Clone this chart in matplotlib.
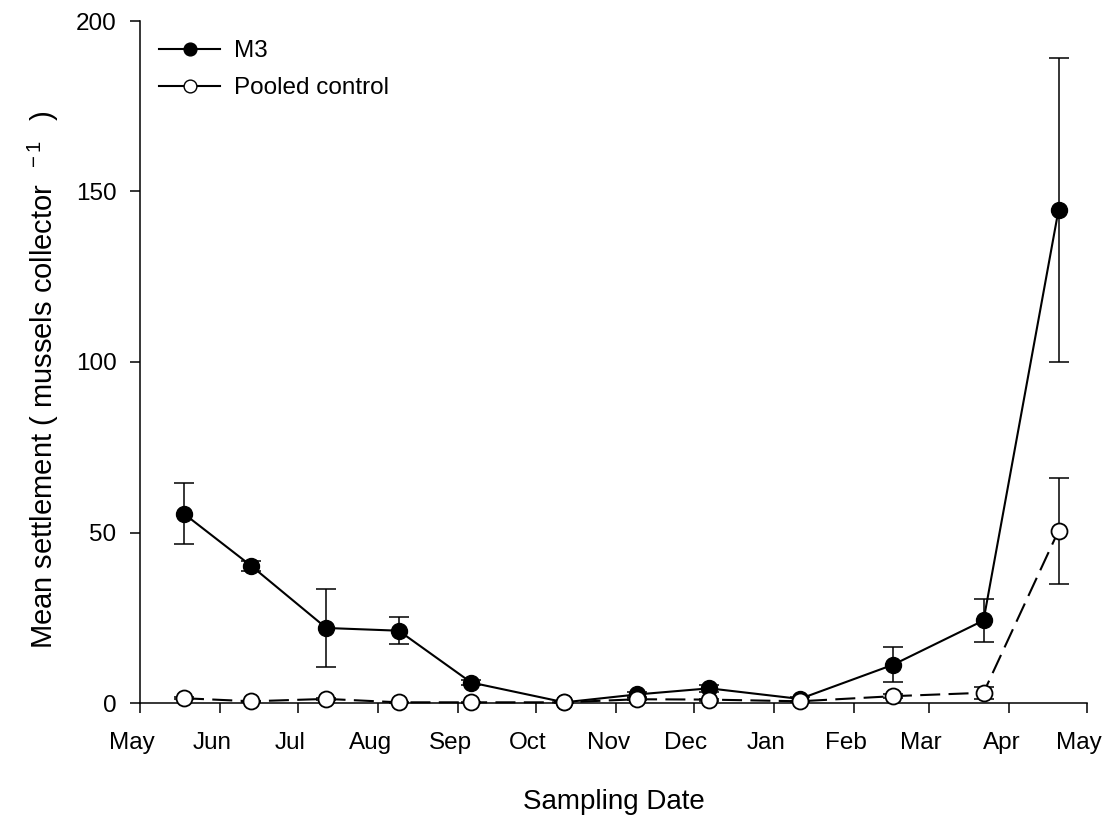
import matplotlib
matplotlib.use("Agg")
import matplotlib.pyplot as plt
import matplotlib.transforms as mtransforms
from datetime import datetime

plt.rcParams['font.family'] = ['Liberation Sans', 'DejaVu Sans']
plt.rcParams['mathtext.fontset'] = 'custom'
plt.rcParams['mathtext.rm'] = 'Liberation Sans'
plt.rcParams['mathtext.it'] = 'Liberation Sans'

# ---- data ----
sample_dates = ["2007-05-18", "2007-06-13", "2007-07-12", "2007-08-09", "2007-09-06",
                "2007-10-12", "2007-11-09", "2007-12-07", "2008-01-11", "2008-02-16",
                "2008-03-22", "2008-04-20"]
m3_mean = [55.5, 40.2, 22.0, 21.2, 6.0, 0.2, 2.5, 4.3, 1.2, 11.2, 24.2, 144.6]
m3_se = [9.0, 1.5, 11.4, 4.0, 0.8, 0.0, 0.8, 1.0, 0.5, 5.1, 6.2, 44.6]
ctrl_mean = [1.4, 0.5, 1.2, 0.2, 0.2, 0.2, 1.1, 1.0, 0.5, 2.0, 3.0, 50.5]
ctrl_se = [0.3, 0.2, 0.3, 0.1, 0.1, 0.1, 0.3, 0.3, 0.2, 0.6, 1.8, 15.5]
month_ticks = ["2007-05-01", "2007-06-01", "2007-07-01", "2007-08-01", "2007-09-01",
               "2007-10-01", "2007-11-01", "2007-12-01", "2008-01-01", "2008-02-01",
               "2008-03-01", "2008-04-01", "2008-05-01"]
month_labels = ["May", "Jun", "Jul", "Aug", "Sep", "Oct", "Nov", "Dec", "Jan", "Feb",
                "Mar", "Apr", "May"]
y_ticks = [0, 50, 100, 150, 200]

x = [datetime.strptime(d, "%Y-%m-%d") for d in sample_dates]
xt = [datetime.strptime(d, "%Y-%m-%d") for d in month_ticks]

fig = plt.figure(figsize=(11.08, 8.21), dpi=100)
ax = fig.add_axes([140/1108, 1 - 703/821, (1087-140)/1108, (703-21)/821])

lw = 1.5
ax.errorbar(x, m3_mean, yerr=m3_se, fmt='none', ecolor='black', elinewidth=1.1,
            capsize=7, capthick=1.1, clip_on=False, zorder=2)
ax.plot(x, m3_mean, color='black', lw=lw, marker='o', markersize=11.5,
        markerfacecolor='black', markeredgecolor='black', clip_on=False,
        label='M3', zorder=3)
ax.errorbar(x, ctrl_mean, yerr=ctrl_se, fmt='none', ecolor='black', elinewidth=1.1,
            capsize=7, capthick=1.1, clip_on=False, zorder=4)
ax.plot(x, ctrl_mean, color='black', lw=lw, dashes=(9.6, 4), marker='o', markersize=11.5,
        markerfacecolor='white', markeredgecolor='black', markeredgewidth=1.3,
        clip_on=False, zorder=5)
# legend proxy (solid line for both)
ax.plot([], [], color='black', lw=lw, marker='o', markersize=11.5,
        markerfacecolor='white', markeredgecolor='black', label='Pooled control')

ax.set_xlim(xt[0], xt[-1])
ax.set_ylim(0, 200)
ax.set_xticks(xt)
ax.set_xticklabels(month_labels)
ax.set_yticks(y_ticks)
ax.tick_params(axis='both', direction='out', length=7, width=1.1, labelsize=17.5)
ax.tick_params(axis='x', pad=14)
ax.tick_params(axis='y', pad=10)
shift = mtransforms.ScaledTranslation(-8/100, 0, fig.dpi_scale_trans)
for lab in ax.get_xticklabels():
    lab.set_transform(lab.get_transform() + shift)
for s in ['top', 'right']:
    ax.spines[s].set_visible(False)
for s in ['left', 'bottom']:
    ax.spines[s].set_linewidth(1.1)

ax.set_xlabel('Sampling Date', fontsize=20, labelpad=25)
ax.set_ylabel(r'Mean settlement ( mussels collector $^{\;-1}$$\;\;\;$)', fontsize=21)
ax.yaxis.set_label_coords(-0.0834, 0.474)

leg = ax.legend(loc='upper left', bbox_to_anchor=(0.0, 1.0), frameon=False, fontsize=17.5,
                handlelength=2.5, markerscale=0.8, handletextpad=0.55, labelspacing=0.6,
                borderaxespad=0.35, borderpad=0.45)

fig.savefig('out.png', dpi=100)
